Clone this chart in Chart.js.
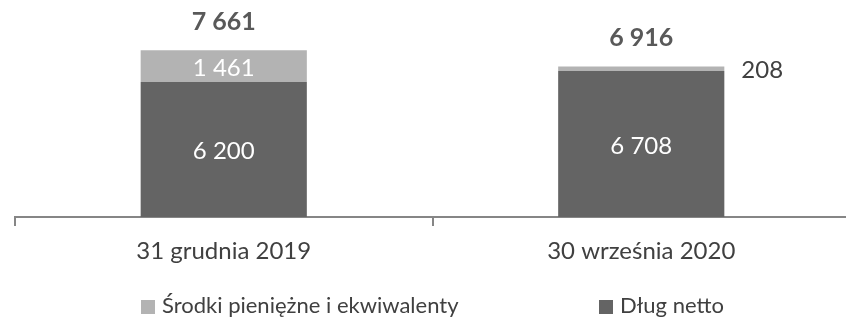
<!DOCTYPE html>
<html>
<head>
<meta charset="utf-8">
<script src="https://cdn.jsdelivr.net/npm/chart.js@4/dist/chart.umd.min.js"></script>
<style>
  html, body { margin: 0; padding: 0; background: #fff; overflow: hidden; }
  #wrap { position: relative; width: 860px; height: 320px; }
  #legend {
    position: absolute; top: 291px; left: 0; width: 846px; height: 28px;
    font-family: Lato, "Open Sans", sans-serif; font-size: 22px; color: #404040;
  }
  #legend span.item { position: absolute; top: 0; white-space: nowrap; line-height: 28px; }
  #legend i { display: inline-block; width: 14px; height: 14px; margin-right: 7px; vertical-align: -1px; }
</style>
</head>
<body>
<div id="wrap">
  <canvas id="chart" width="860" height="320"></canvas>
  <div id="legend"></div>
</div>
<script>
// dane
const categories = ['31 grudnia 2019', '30 września 2020'];
const dlugNetto = [6200, 6708];
const srodki = [1461, 208];
const seriesNames = ['Dług netto', 'Środki pieniężne i ekwiwalenty'];
const colors = ['#646464', '#b3b3b3'];

const FONT = 'Lato, "Open Sans", sans-serif';

function fmt(v) {
    return String(v).replace(/\B(?=(\d{3})+(?!\d))/g, ' ');
}

// etykiety na słupkach + sumy
const labelsPlugin = {
    id: 'barLabels',
    afterDatasetsDraw(chart) {
        const ctx = chart.ctx;
        const yScale = chart.scales.y;
        ctx.save();
        ctx.textBaseline = 'middle';
        chart.data.datasets.forEach((ds, di) => {
            const meta = chart.getDatasetMeta(di);
            meta.data.forEach((bar, i) => {
                const h = bar.base - bar.y;
                const cy = (bar.y + bar.base) / 2;
                ctx.font = '24px ' + FONT;
                if (h > 25) {
                    ctx.fillStyle = '#ffffff';
                    ctx.textAlign = 'center';
                    ctx.fillText(fmt(ds.data[i]), bar.x, cy + 2);
                } else {
                    ctx.fillStyle = '#404040';
                    ctx.textAlign = 'left';
                    ctx.fillText(fmt(ds.data[i]), bar.x + bar.width / 2 + 17, cy + 2);
                }
            });
        });
        // sumy
        const meta0 = chart.getDatasetMeta(0);
        meta0.data.forEach((bar, i) => {
            const total = dlugNetto[i] + srodki[i];
            ctx.font = 'bold 25px ' + FONT;
            ctx.fillStyle = '#595959';
            ctx.textAlign = 'center';
            ctx.fillText(fmt(total), bar.x, yScale.getPixelForValue(total) - 28);
        });
        ctx.restore();
    }
};

new Chart(document.getElementById('chart').getContext('2d'), {
    type: 'bar',
    data: {
        labels: categories,
        datasets: [
            { label: seriesNames[0], data: dlugNetto, backgroundColor: colors[0] },
            { label: seriesNames[1], data: srodki, backgroundColor: colors[1] }
        ]
    },
    options: {
        responsive: false,
        animation: false,
        devicePixelRatio: 1,
        categoryPercentage: 1,
        barPercentage: 0.398,
        layout: { padding: { left: 15, right: 10, top: 21, bottom: 0 } },
        plugins: {
            legend: { display: false },
            tooltip: { enabled: false }
        },
        scales: {
            x: {
                stacked: true,
                afterFit: s => { s.height = 103; },
                grid: {
                    offset: true,
                    drawOnChartArea: false,
                    drawTicks: true,
                    tickLength: 9,
                    color: '#868686',
                    lineWidth: 2
                },
                border: { display: true, color: '#868686', width: 2 },
                ticks: {
                    color: '#404040',
                    padding: 11,
                    font: { family: FONT, size: 24 }
                }
            },
            y: {
                stacked: true,
                display: false,
                min: 0,
                max: 9000
            }
        }
    },
    plugins: [labelsPlugin]
});

// legenda
const legend = document.getElementById('legend');
const legendItems = [
    { name: seriesNames[1], color: colors[1], left: 141 },
    { name: seriesNames[0], color: colors[0], left: 599 }
];
legendItems.forEach(it => {
    const s = document.createElement('span');
    s.className = 'item';
    s.style.left = it.left + 'px';
    s.innerHTML = '<i style="background:' + it.color + '"></i>' + it.name;
    legend.appendChild(s);
});
</script>
</body>
</html>
